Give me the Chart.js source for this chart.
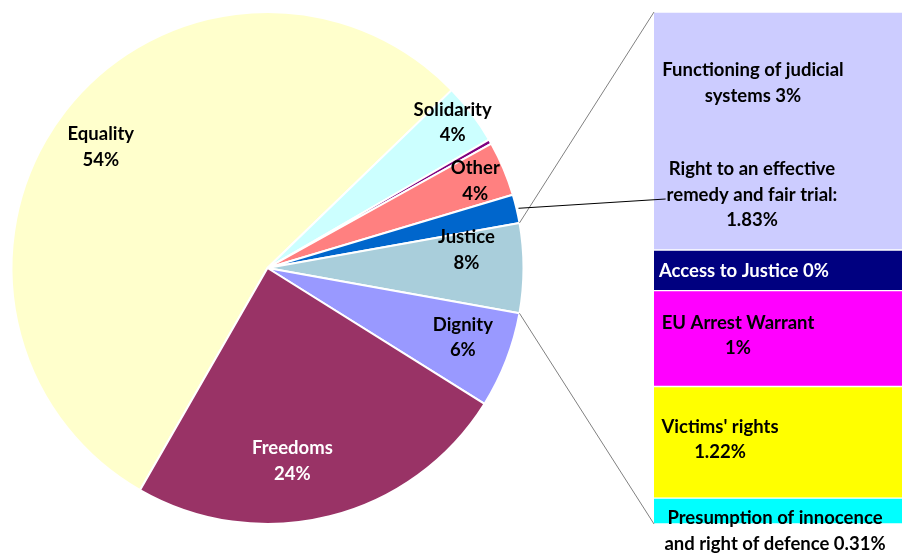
<!DOCTYPE html>
<html lang="en">
<head>
<meta charset="UTF-8">
<title>Justice breakdown</title>
<style>
  html, body { margin: 0; padding: 0; background: #ffffff; }
  .wrap { position: relative; width: 902px; height: 557px; overflow: hidden; }
  .wrap canvas { position: absolute; left: 0; top: 0; }
</style>
</head>
<body>
<div class="wrap">
  <canvas id="pieChart" width="902" height="557"></canvas>
  <canvas id="barChart" width="902" height="557"></canvas>
</div>

<script src="https://cdn.jsdelivr.net/npm/chart.js@4.4.0/dist/chart.umd.min.js"></script>
<script>
// pie slices, clockwise starting from Equality
var pie_labels = ['Equality', 'Solidarity', '', 'Other', 'Right to an effective remedy and fair trial', 'Justice', 'Dignity', 'Freedoms'];
var pie_values = [54.5, 3.86, 0.3, 3.45, 1.8, 5.65, 6.07, 24.4];
var pie_texts = ['54%', '4%', '', '4%', '', '8%', '6%', '24%'];
var pie_colors = ['#FFFFCC', '#CCFFFF', '#800080', '#FF8080', '#0066CC', '#A9CEDB', '#9999FF', '#993366'];
var pie_text_colors = ['#000', '#000', '#000', '#000', '#000', '#000', '#000', '#fff'];

// breakdown bar, bottom to top
var bar_labels = ['Presumption of innocence', "Victims' rights", 'EU Arrest Warrant', 'Access to Justice', 'Functioning of judicial systems'];
var bar_values = [0.28, 1.21, 1.04, 0.44, 2.58];
var bar_colors = ['#00FFFF', '#FFFF00', '#FF00FF', '#000080', '#CCCCFF'];

// text lines drawn on the bar segments
var bar_texts = [
    ['Presumption of innocence', 'and right of defence 0.31%'],
    ["Victims' rights", '1.22%'],
    ['EU Arrest Warrant', '1%'],
    ['Access to Justice 0%'],
    ['Functioning of judicial', 'systems 3%']
];
var remedy_text = ['Right to an effective', 'remedy and fair trial:', '1.83%'];

// label placement (radius fraction, angle tweak in degrees) for the pie
var pie_label_pos = [
    { r: 0.805, da: -1.9 }, { r: 0.92, da: -1.1 }, null, { r: 0.88, da: 0.1 },
    null, { r: 0.78, da: -5.2 }, { r: 0.81, da: -1.5 }, { r: 0.76, da: 6.7 }
];
// bar text placement relative to segment centre
var bar_text_pos = [
    { dx: -3, dy: 20, align: 'center' },
    { dx: -58, dy: -3, align: 'center' },
    { dx: -40, dy: -3, align: 'center' },
    { dx: 5, dy: 1, align: 'left' },
    { dx: -25, dy: -48, align: 'center' }
];
var remedy_pos = { seg: 4, dx: -26, dy: 64 };

var FONT = 'bold 18.5px Lato, "Liberation Sans", sans-serif';
var LINE_H = 25.5;

var pieLabels = {
    id: 'pieLabels',
    afterDatasetsDraw(chart) {
        var ctx = chart.ctx;
        var arcs = chart.getDatasetMeta(0).data;
        ctx.save();
        ctx.font = FONT;
        ctx.textAlign = 'center';
        ctx.textBaseline = 'middle';
        arcs.forEach((arc, i) => {
            if (!pie_texts[i]) return;
            var p = arc.getProps(['x', 'y', 'startAngle', 'endAngle', 'outerRadius'], true);
            var a = (p.startAngle + p.endAngle) / 2 + pie_label_pos[i].da * Math.PI / 180;
            var r = p.outerRadius * pie_label_pos[i].r;
            var cx = p.x + Math.cos(a) * r;
            var cy = p.y + Math.sin(a) * r;
            ctx.fillStyle = pie_text_colors[i];
            ctx.fillText(pie_labels[i], cx, cy - LINE_H / 2);
            ctx.fillText(pie_texts[i], cx, cy + LINE_H / 2);
        });
        ctx.restore();
    }
};

var pieChart = new Chart(document.getElementById('pieChart'), {
    type: 'pie',
    data: {
        labels: pie_labels,
        datasets: [{
            data: pie_values,
            backgroundColor: pie_colors,
            borderColor: '#ffffff',
            borderWidth: 2
        }]
    },
    options: {
        responsive: false,
        devicePixelRatio: 1,
        animation: false,
        rotation: 209.85,
        layout: { padding: { left: 10, right: 377, top: 11, bottom: 32 } },
        plugins: { legend: { display: false }, tooltip: { enabled: false } }
    },
    plugins: [pieLabels]
});

function segBox(chart, i) {
    var el = chart.getDatasetMeta(i).data[0];
    var p = el.getProps(['x', 'y', 'base', 'width'], true);
    return { left: p.x - p.width / 2, right: p.x + p.width / 2, top: Math.min(p.y, p.base), bottom: Math.max(p.y, p.base), cx: p.x, cy: (p.y + p.base) / 2 };
}

function drawLines(ctx, lines, x, cy, align) {
    ctx.textAlign = align;
    var y0 = cy - (lines.length - 1) * LINE_H / 2;
    lines.forEach((t, k) => ctx.fillText(t, x, y0 + k * LINE_H));
}

var barExtras = {
    id: 'barExtras',
    afterDatasetsDraw(chart) {
        var ctx = chart.ctx;
        ctx.save();

        // connectors from the Justice slice to the bar
        var arc = pieChart.getDatasetMeta(0).data[5].getProps(['x', 'y', 'startAngle', 'endAngle', 'outerRadius'], true);
        var top = segBox(chart, bar_values.length - 1);
        var bottom = segBox(chart, 0);
        ctx.strokeStyle = '#808080';
        ctx.lineWidth = 1;
        ctx.beginPath();
        ctx.moveTo(arc.x + Math.cos(arc.startAngle) * arc.outerRadius, arc.y + Math.sin(arc.startAngle) * arc.outerRadius);
        ctx.lineTo(top.left, top.top);
        ctx.moveTo(arc.x + Math.cos(arc.endAngle) * arc.outerRadius, arc.y + Math.sin(arc.endAngle) * arc.outerRadius);
        ctx.lineTo(bottom.left, bottom.bottom);
        ctx.stroke();

        ctx.font = FONT;
        ctx.textBaseline = 'middle';

        // segment texts
        bar_texts.forEach((lines, i) => {
            var b = segBox(chart, i);
            var pos = bar_text_pos[i];
            ctx.fillStyle = bar_colors[i] === '#000080' ? '#ffffff' : '#000000';
            var x = pos.align === 'left' ? b.left + pos.dx : b.cx + pos.dx;
            drawLines(ctx, lines, x, b.cy + pos.dy, pos.align);
        });

        // remedy label + leader line to the blue slice
        var rb = segBox(chart, remedy_pos.seg);
        var rx = rb.cx + remedy_pos.dx;
        var ry = rb.cy + remedy_pos.dy;
        ctx.fillStyle = '#000000';
        drawLines(ctx, remedy_text, rx, ry, 'center');
        var w = ctx.measureText(remedy_text[1]).width;
        var blue = pieChart.getDatasetMeta(0).data[4].getProps(['x', 'y', 'startAngle', 'endAngle', 'outerRadius'], true);
        var ba = (blue.startAngle + blue.endAngle) / 2;
        ctx.strokeStyle = '#000000';
        ctx.beginPath();
        ctx.moveTo(blue.x + Math.cos(ba) * (blue.outerRadius + 2), blue.y + Math.sin(ba) * (blue.outerRadius + 2));
        ctx.lineTo(rx - w / 2 - 1, ry + 4);
        ctx.stroke();

        ctx.restore();
    }
};

var datasets = bar_values.map((v, i) => {
    return {
        label: bar_labels[i],
        data: [v],
        backgroundColor: bar_colors[i],
        borderColor: '#ffffff',
        borderWidth: { top: 1, bottom: 1, left: 0, right: 0 },
        borderSkipped: false,
        categoryPercentage: 1,
        barPercentage: 1
    };
});

var barChart = new Chart(document.getElementById('barChart'), {
    type: 'bar',
    data: { labels: ['Justice'], datasets: datasets },
    options: {
        responsive: false,
        devicePixelRatio: 1,
        animation: false,
        layout: { padding: { left: 654, right: 0, top: 12, bottom: 33 } },
        scales: {
            x: { stacked: true, display: false },
            y: { stacked: true, display: false, min: 0, max: bar_values.reduce((a, b) => a + b, 0) }
        },
        plugins: { legend: { display: false }, tooltip: { enabled: false } }
    },
    plugins: [barExtras]
});
</script>
</body>
</html>
